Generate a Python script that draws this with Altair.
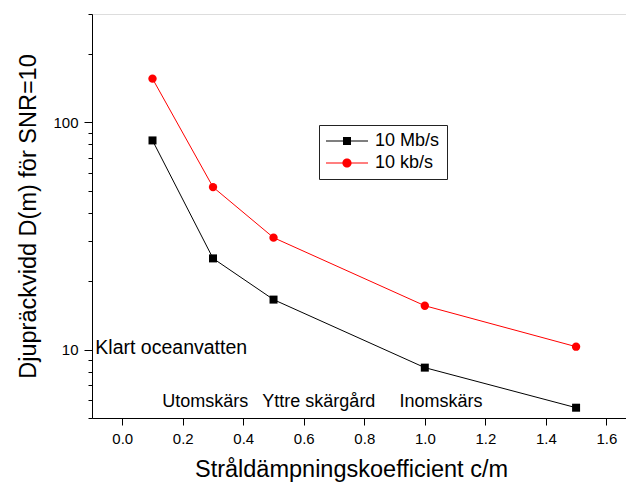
import altair as alt
import pandas as pd

# ---- data ----
c_values = [0.1, 0.3, 0.5, 1.0, 1.5]
depth_10mbps = [83.3, 25.2, 16.6, 8.33, 5.55]
depth_10kbps = [155.8, 51.9, 31.1, 15.6, 10.3]
series_names = ["10 Mb/s", "10 kb/s"]
series_colors = ["black", "#ff0000"]

ann_text = ["Klart oceanvatten", "Utomskärs", "Yttre skärgård", "Inomskärs"]
ann_x = [-0.089, 0.132, 0.463, 0.916]
ann_y = [9.6, 5.58, 5.58, 5.58]

x_ticks = [0.0, 0.1, 0.2, 0.3, 0.4, 0.5, 0.6, 0.7, 0.8, 0.9, 1.0, 1.1, 1.2, 1.3, 1.4, 1.5, 1.6]
y_ticks = [5, 6, 7, 8, 9, 10, 20, 30, 40, 50, 60, 70, 80, 90, 100, 200, 300]

rows = []
for s, vals in zip(series_names, [depth_10mbps, depth_10kbps]):
    for c, d in zip(c_values, vals):
        rows.append({"series": s, "c": c, "D": d})
df = pd.DataFrame(rows)
ann = pd.DataFrame({"text": ann_text, "c": ann_x, "D": ann_y})

FONT = "Liberation Sans"

x_scale = alt.Scale(domain=[-0.1, 1.665], nice=False, zero=False)
y_scale = alt.Scale(type="log", domain=[5, 300], nice=False)

x_axis = alt.Axis(
    values=x_ticks,
    title="Stråldämpningskoefficient c/m",
    titleFont=FONT, titleFontSize=23.5, titleFontWeight="normal", titleColor="black",
    titleX=259, titleY=58, titleAlign="center", titleBaseline="alphabetic",
    labelFont=FONT, labelFontSize=15, labelColor="black",
    labelExpr="round(datum.value*10) % 2 == 0 ? format(datum.value, '.1f') : ''",
    labelPadding=6, labelOverlap=False, labelFlush=False,
    tickSize={"condition": {"test": "round(datum.value*10) % 2 == 0", "value": 7}, "value": 4},
    tickColor="black", domainColor="black", grid=False,
)
y_axis = alt.Axis(
    values=y_ticks,
    title="Djupräckvidd D(m) för SNR=10",
    titleFont=FONT, titleFontSize=23.5, titleFontWeight="normal", titleColor="black",
    titleAngle=270, titleX=-57, titleY=202, titleAlign="center", titleBaseline="alphabetic",
    labelFont=FONT, labelFontSize=15, labelColor="black",
    labelExpr="datum.value == 10 || datum.value == 100 ? format(datum.value, 'd') : ''",
    labelPadding=6, labelOverlap=False, labelFlush=False,
    tickSize={"condition": {"test": "datum.value == 10 || datum.value == 100", "value": 8}, "value": 4},
    tickColor="black", domainColor="black", grid=False,
)

X = alt.X("c:Q", scale=x_scale, axis=x_axis)
Y = alt.Y("D:Q", scale=y_scale, axis=y_axis)
Xn = alt.X("c:Q", scale=x_scale)
Yn = alt.Y("D:Q", scale=y_scale)

base = alt.Chart(df)

line_mb = base.transform_filter(alt.datum.series == series_names[0]).mark_line(
    strokeWidth=1, color=series_colors[0]
).encode(x=X, y=Y)
line_kb = base.transform_filter(alt.datum.series == series_names[1]).mark_line(
    strokeWidth=1, color=series_colors[1]
).encode(x=Xn, y=Yn)

squares = base.transform_filter(alt.datum.series == series_names[0]).mark_point(
    shape="square", filled=True, size=64, color=series_colors[0], opacity=1
).encode(x=Xn, y=Yn)

circles = base.transform_filter(alt.datum.series == series_names[1]).mark_point(
    shape="circle", filled=True, size=70, color=series_colors[1], opacity=1
).encode(x=Xn, y=Yn)

# legend symbols: line segments + marker as filled paths; 1 unit = 9 px (symbolSize 324)
u = 9.0
L = round(21 / u, 4)      # half line length 21 px
h = round(0.5 / u, 4)     # half line thickness
sq = round(4 / u, 4)      # half square side
r = round(4.6 / u, 4)     # circle radius
g = round(2.5 / u, 4)     # inner end of line segments (inside the marker)
line_part = f"M-{L},-{h}H-{g}V{h}H-{L}Z M{g},-{h}H{L}V{h}H{g}Z"
sym_square = line_part + f" M-{sq},-{sq}H{sq}V{sq}H-{sq}Z"
sym_circle = line_part + f" M-{r},0A{r},{r},0,1,1,{r},0A{r},{r},0,1,1,-{r},0Z"

legend = alt.Legend(
    title=None, orient="none", legendX=227, legendY=111,
    symbolSize=324, symbolStrokeWidth=0, symbolOpacity=1, symbolOffset=12,
    labelFont=FONT, labelFontSize=18, labelColor="black", labelOffset=19,
    padding=7, rowPadding=4,
    strokeColor="#222222", fillColor="white", cornerRadius=0,
)

legend_layer = base.mark_point(filled=True, opacity=0).encode(
    x=Xn, y=Yn,
    color=alt.Color("series:N", scale=alt.Scale(domain=series_names, range=series_colors), legend=legend),
    shape=alt.Shape("series:N", scale=alt.Scale(domain=series_names, range=[sym_square, sym_circle]), legend=legend),
)

texts = alt.Chart(ann).mark_text(
    align="left", baseline="alphabetic", font=FONT, color="black"
).encode(
    x=Xn, y=Yn, text="text:N",
    size=alt.condition(alt.datum.text == "Klart oceanvatten", alt.value(19.5), alt.value(18)),
)

chart = alt.layer(line_mb, line_kb, squares, circles, texts, legend_layer).properties(
    width=534, height=404,
    padding={"left": 92, "top": 14, "right": 0, "bottom": 66},
    autosize=alt.AutoSizeParams(type="none"),
).configure_view(strokeWidth=0).configure(background="white")

chart.save("out.html", embed_options={"renderer": "svg", "actions": False})
